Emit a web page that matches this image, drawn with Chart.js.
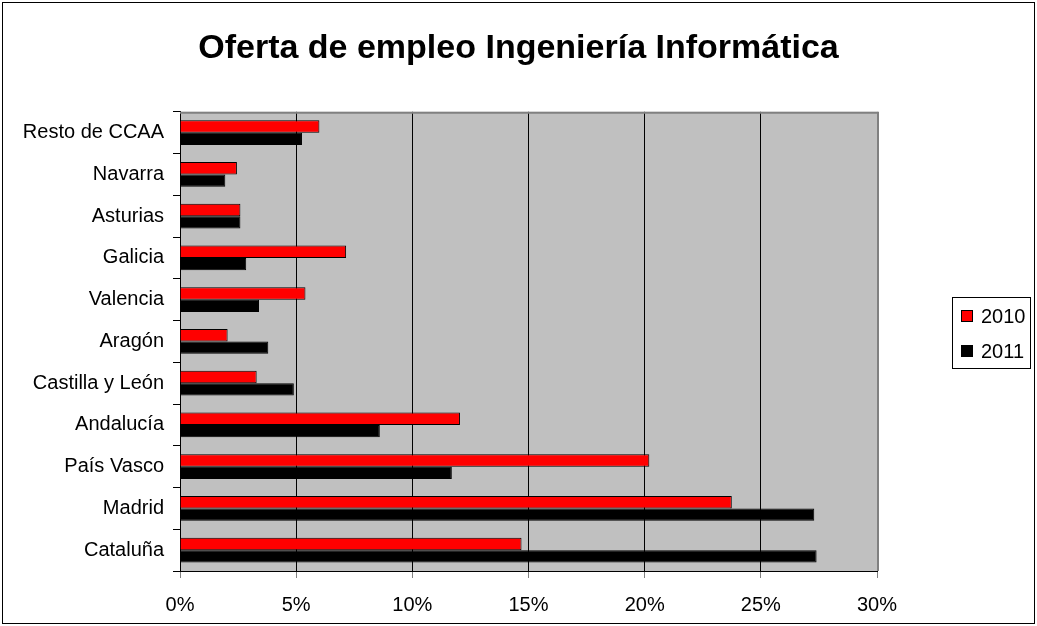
<!DOCTYPE html>
<html>
<head>
<meta charset="utf-8">
<script src="https://cdn.jsdelivr.net/npm/chart.js@4.4.1/dist/chart.umd.min.js"></script>
<style>
html,body{margin:0;padding:0;background:#fff;}
#wrap{width:1037px;height:626px;position:relative;}
canvas{display:block;}
</style>
</head>
<body>
<div id="wrap"><canvas id="c" width="1037" height="626"></canvas></div>
<script>
const titleText = 'Oferta de empleo Ingeniería Informática';
const categories = ['Resto de CCAA','Navarra','Asturias','Galicia','Valencia','Aragón','Castilla y León','Andalucía','País Vasco','Madrid','Cataluña'];
const seriesNames = ['2010','2011'];
const values2010 = [6.0, 2.45, 2.6, 7.15, 5.4, 2.05, 3.3, 12.05, 20.2, 23.75, 14.7];
const values2011 = [5.25, 1.95, 2.6, 2.85, 3.4, 3.8, 4.9, 8.6, 11.7, 27.3, 27.4];
const xTickValues = [0, 5, 10, 15, 20, 25, 30];
const seriesColors = ['#FF0000', '#000000'];

const FONT = 'Liberation Sans, Arial, Helvetica, sans-serif';
Chart.defaults.color = '#000';
Chart.defaults.font.family = FONT;

const bgPlugin = {
  id: 'bg',
  beforeDraw(chart) {
    const {ctx, chartArea: a} = chart;
    ctx.save();
    ctx.fillStyle = '#fff';
    ctx.fillRect(0, 0, chart.width, chart.height);
    ctx.fillStyle = '#C0C0C0';
    ctx.fillRect(a.left, a.top, a.right - a.left, a.bottom - a.top);
    ctx.restore();
  },
  afterDraw(chart) {
    const {ctx, chartArea: a} = chart;
    ctx.save();
    // plot frame top & right (grey)
    ctx.strokeStyle = '#808080';
    ctx.lineWidth = 2;
    ctx.beginPath();
    ctx.moveTo(a.left, a.top + 1);
    ctx.lineTo(a.right + 1, a.top + 1);
    ctx.lineTo(a.right + 1, a.bottom);
    ctx.stroke();
    // outer border
    ctx.strokeStyle = '#000';
    ctx.lineWidth = 1;
    ctx.strokeRect(2.5, 2.5, 1032, 621);
    // legend
    const lx = 952, ly = 297, lw = 78, lh = 71;
    ctx.strokeRect(lx + 0.5, ly + 0.5, lw, lh);
    ctx.font = '20px ' + FONT;
    ctx.textBaseline = 'middle';
    ctx.textAlign = 'left';
    chart.data.datasets.forEach((ds, i) => {
      const cy = ly + 19 + i * 35;
      ctx.fillStyle = ds.backgroundColor;
      ctx.fillRect(lx + 9, cy - 6, 12, 12);
      ctx.strokeStyle = '#000';
      ctx.strokeRect(lx + 9.5, cy - 5.5, 11, 11);
      ctx.fillStyle = '#000';
      ctx.fillText(ds.label, lx + 29, cy + 1);
    });
    ctx.restore();
  }
};

new Chart(document.getElementById('c'), {
  type: 'bar',
  data: {
    labels: categories,
    datasets: [
      {label: seriesNames[0], data: values2010, backgroundColor: seriesColors[0], borderColor: '#000', borderWidth: 1, borderSkipped: 'start', categoryPercentage: 0.59, barPercentage: 1.0},
      {label: seriesNames[1], data: values2011, backgroundColor: seriesColors[1], borderColor: '#000', borderWidth: 1, borderSkipped: 'start', categoryPercentage: 0.59, barPercentage: 1.0}
    ]
  },
  options: {
    indexAxis: 'y',
    responsive: false,
    animation: false,
    devicePixelRatio: 1,
    layout: {padding: {left: 0, right: 0, top: 0, bottom: 0}},
    plugins: {
      legend: {display: false},
      tooltip: {enabled: false},
      title: {
        display: true,
        text: titleText,
        color: '#000',
        font: {family: FONT, size: 34, weight: 'bold'},
        padding: {top: 28, bottom: 43}
      }
    },
    scales: {
      x: {
        min: 0, max: 30,
        afterBuildTicks(scale) { scale.ticks = xTickValues.map(v => ({value: v})); },
        afterFit(scale) { scale.height = 55; },
        ticks: {callback: v => v + '%', font: {family: FONT, size: 20}, color: '#000', padding: 15, maxRotation: 0},
        grid: {
          color: c => (c.index === xTickValues.length - 1 ? '#808080' : '#000'),
          tickColor: '#808080',
          tickLength: 7,
          lineWidth: 1
        },
        border: {color: '#000', width: 1}
      },
      y: {
        afterFit(scale) { scale.width = 180; },
        ticks: {font: {family: FONT, size: 20}, color: '#000', padding: 9},
        grid: {drawOnChartArea: false, color: '#000', tickLength: 7, offset: true},
        border: {color: '#000', width: 1}
      },
      yRight: {
        type: 'category',
        position: 'right',
        afterFit(scale) { scale.width = 160; },
        ticks: {display: false},
        grid: {display: false},
        border: {display: false}
      }
    }
  },
  plugins: [bgPlugin]
});
</script>
</body>
</html>
